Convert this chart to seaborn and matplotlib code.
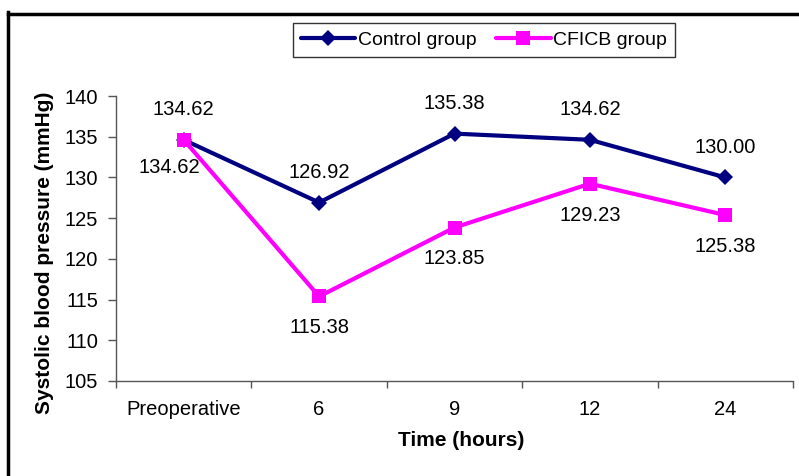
import matplotlib
matplotlib.use("Agg")
import matplotlib.pyplot as plt
import seaborn as sns
import pandas as pd
from matplotlib.lines import Line2D

# ---- data ----
times = ["Preoperative", "6", "9", "12", "24"]
control = [134.62, 126.92, 135.38, 134.62, 130.00]
cficb = [134.62, 115.38, 123.85, 129.23, 125.38]
series_names = ["Control group", "CFICB group"]
y_ticks = [105, 110, 115, 120, 125, 130, 135, 140]

sns.set_theme(style="white")
plt.rcParams["font.family"] = ["Liberation Sans", "DejaVu Sans"]
plt.rcParams["text.color"] = "black"
plt.rcParams["axes.labelcolor"] = "black"
plt.rcParams["xtick.labelcolor"] = "black"
plt.rcParams["ytick.labelcolor"] = "black"

df = pd.DataFrame({
    "time": times * 2,
    "pos": list(range(len(times))) * 2,
    "value": control + cficb,
    "group": [series_names[0]] * len(times) + [series_names[1]] * len(times),
})

W, H = 799, 476
fig = plt.figure(figsize=(W / 100, H / 100), dpi=100)
fig.patch.set_facecolor("white")
ax = fig.add_axes([116 / W, (H - 381) / H, 677 / W, 285 / H])

palette = {series_names[0]: "#000080", series_names[1]: "#FF00FF"}
markers = {series_names[0]: "D", series_names[1]: "s"}
sizes_ms = {series_names[0]: 8, series_names[1]: 9.5}

for name in series_names:
    sub = df[df["group"] == name]
    sns.lineplot(data=sub, x="pos", y="value", ax=ax, color=palette[name],
                 marker=markers[name], markersize=sizes_ms[name],
                 markeredgewidth=0, linewidth=3, label=name, legend=False)

# data labels
fs = 14.5
ctrl_offsets = [(0, 30)] * 5
cf_offsets = [(-14, -28), (0, -31), (0, -31), (0, -32), (0, -31)]
for i, v in enumerate(control):
    ax.annotate(f"{v:.2f}", (i, v), xytext=ctrl_offsets[i], textcoords="offset pixels",
                ha="center", va="center", fontsize=fs, color="black")
for i, v in enumerate(cficb):
    ax.annotate(f"{v:.2f}", (i, v), xytext=cf_offsets[i], textcoords="offset pixels",
                ha="center", va="center", fontsize=fs, color="black")

ax.set_xlim(-0.5, len(times) - 0.5)
ax.set_ylim(105, 140)
ax.set_yticks(y_ticks)
ax.set_yticklabels([str(t) for t in y_ticks], fontsize=fs)
ax.set_xticks([i - 0.5 for i in range(len(times) + 1)])
ax.set_xticklabels([""] * (len(times) + 1))
ax.set_xticks(range(len(times)), minor=True)
ax.set_xticklabels(times, minor=True, fontsize=fs)
ax.tick_params(axis="x", which="major", direction="out", length=5, width=1, color="#555555", bottom=True)
ax.tick_params(axis="x", which="minor", length=0, pad=14)
ax.tick_params(axis="y", direction="out", length=6, width=1, color="#555555", left=True, pad=7)

for s in ["top", "right"]:
    ax.spines[s].set_visible(False)
for s in ["left", "bottom"]:
    ax.spines[s].set_color("#555555")
    ax.spines[s].set_linewidth(1)

ax.set_xlabel("Time (hours)", fontsize=15, fontweight="bold", color="black")
ax.xaxis.set_label_coords((461 - 116) / 677, -(431 - 381) / 285)
ax.set_ylabel("Systolic blood pressure (mmHg)", fontsize=15, fontweight="bold", color="black")
ax.yaxis.set_label_coords(-(116 - 54) / 677, (381 - 253) / 285)

handles = [Line2D([], [], color=palette[n], marker=markers[n], markersize=sizes_ms[n],
                  markeredgewidth=0, linewidth=3) for n in series_names]
leg = fig.legend(handles, series_names, loc="center", ncol=2,
                 bbox_to_anchor=(484 / W, 1 - 40 / H), fontsize=14,
                 frameon=True, fancybox=False, edgecolor="black",
                 handlelength=2.8, handletextpad=0.15, columnspacing=1.0,
                 borderpad=0.4, borderaxespad=0)
leg.get_frame().set_linewidth(1)
for t in leg.get_texts():
    t.set_color("black")

# outer frame (left and top edges visible)
fig.add_artist(Line2D([7.5 / W, 7.5 / W], [0, 1 - 12 / H], transform=fig.transFigure,
                      color="black", linewidth=2.5, solid_capstyle="projecting"))
fig.add_artist(Line2D([7.5 / W, 1], [1 - 13.5 / H, 1 - 13.5 / H], transform=fig.transFigure,
                      color="black", linewidth=2.5, solid_capstyle="projecting"))

fig.savefig("out.png", dpi=100, facecolor="white")
